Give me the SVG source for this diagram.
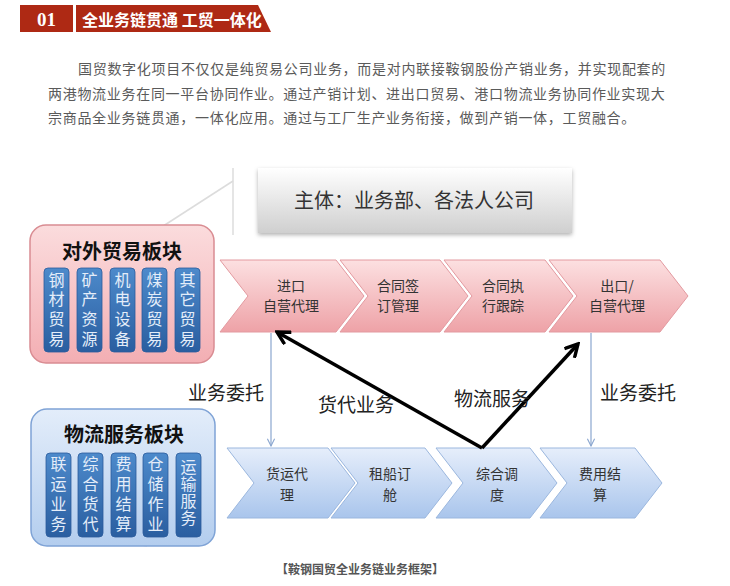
<svg xmlns="http://www.w3.org/2000/svg" width="730" height="586" viewBox="0 0 730 586">
<style>
.cjk{font-family:"Noto Sans CJK SC","Noto Sans",sans-serif;}
.para{font-size:14px;fill:#5a5a5a;letter-spacing:0.7px;}
.hdr{fill:#ae2914;}
.pk{fill:url(#gPink);stroke:#e39aa0;stroke-width:1;}
.bl{fill:url(#gBlue);stroke:#9bb7de;stroke-width:1;}
.ct{font-size:14px;fill:#333;text-anchor:middle;dominant-baseline:central;}
.col{fill:url(#gCol);stroke:#2b5c9c;stroke-width:0.8;}
.colt{font-size:16px;fill:#e4edf9;text-anchor:middle;dominant-baseline:central;}
.lbl{font-size:19px;fill:#222;text-anchor:middle;dominant-baseline:central;}
.thin{stroke:#8aa6cf;stroke-width:1.2;fill:none;}
.thick{stroke:#000;stroke-width:3.5;fill:none;}
.faint{stroke:#dcdcdc;stroke-width:1.5;fill:none;}
</style>
<defs>
<linearGradient id="gPink" x1="0" y1="0" x2="0" y2="1">
<stop offset="0" stop-color="#fce0e1"/>
<stop offset="1" stop-color="#eea2a7"/>
</linearGradient>
<linearGradient id="gBlue" x1="0" y1="0" x2="0" y2="1">
<stop offset="0" stop-color="#e6eefb"/>
<stop offset="1" stop-color="#a9c5ec"/>
</linearGradient>
<linearGradient id="gRedBlock" x1="0" y1="0" x2="0" y2="1">
<stop offset="0" stop-color="#fbdcdd"/>
<stop offset="1" stop-color="#f3aeb3"/>
</linearGradient>
<linearGradient id="gBlueBlock" x1="0" y1="0" x2="0" y2="1">
<stop offset="0" stop-color="#e3edfa"/>
<stop offset="1" stop-color="#b3cdee"/>
</linearGradient>
<linearGradient id="gCol" x1="0" y1="0" x2="0" y2="1">
<stop offset="0" stop-color="#4d8acb"/>
<stop offset="1" stop-color="#2a5ea0"/>
</linearGradient>
<linearGradient id="gGray" x1="0" y1="0" x2="0" y2="1">
<stop offset="0" stop-color="#ffffff"/>
<stop offset="1" stop-color="#cfcfcf"/>
</linearGradient>
<filter id="sh" x="-10%" y="-20%" width="120%" height="150%">
<feDropShadow dx="0" dy="2" stdDeviation="2" flood-color="#000" flood-opacity="0.3"/>
</filter>
<marker id="aBlack" viewBox="0 0 14 14" refX="12" refY="7" markerWidth="16" markerHeight="16" markerUnits="userSpaceOnUse" orient="auto">
<path d="M1,1 L12,7 L1,13" fill="none" stroke="#000" stroke-width="3"/>
</marker>
<marker id="aBlue" viewBox="0 0 10 10" refX="9" refY="5" markerWidth="9" markerHeight="9" markerUnits="userSpaceOnUse" orient="auto">
<path d="M1,1 L9,5 L1,9" fill="none" stroke="#8aa6cf" stroke-width="1.2"/>
</marker>
</defs>

<rect width="730" height="586" fill="#ffffff"/>

<g id="header">
<rect class="hdr" x="20" y="5" width="53" height="27"/>
<path class="hdr" d="M76,5 L258,5 L271,32 L76,32 Z"/>
<text x="46.5" y="19" font-family="Liberation Serif,serif" font-weight="bold" font-size="19" fill="#fff" text-anchor="middle" dominant-baseline="central">01</text>
<text class="cjk" x="82" y="19" font-size="16" font-weight="bold" fill="#fff" dominant-baseline="central">全业务链贯通 工贸一体化</text>
</g>

<g id="paragraph" class="cjk para">
<text x="78" y="74">国贸数字化项目不仅仅是纯贸易公司业务，而是对内联接鞍钢股份产销业务，并实现配套的</text>
<text x="48" y="99">两港物流业务在同一平台协同作业。通过产销计划、进出口贸易、港口物流业务协同作业实现大</text>
<text x="48" y="123">宗商品全业务链贯通，一体化应用。通过与工厂生产业务衔接，做到产销一体，工贸融合。</text>
</g>

<g id="faint-lines">
<path class="faint" d="M233,168 L233,235"/>
<path class="faint" d="M233,181 L140,241"/>
<path class="faint" d="M100,538 L147,546"/>
</g>

<g id="subject">
<rect x="258" y="168" width="314" height="65" fill="url(#gGray)" filter="url(#sh)"/>
<text class="cjk" x="414" y="199" font-size="20" fill="#333" text-anchor="middle" dominant-baseline="central">主体：业务部、各法人公司</text>
</g>

<g id="trade-block">
<rect x="30" y="225" width="184" height="138" rx="16" fill="url(#gRedBlock)" stroke="#d98c92" stroke-width="1.5"/>
<text class="cjk" x="122" y="250" font-size="20" font-weight="bold" fill="#111" text-anchor="middle" dominant-baseline="central">对外贸易板块</text>
<g class="cjk">
<rect class="col" x="44" y="268" width="25" height="84" rx="4"/>
<rect class="col" x="77" y="268" width="25" height="84" rx="4"/>
<rect class="col" x="110" y="268" width="25" height="84" rx="4"/>
<rect class="col" x="142" y="268" width="25" height="84" rx="4"/>
<rect class="col" x="175" y="268" width="25" height="84" rx="4"/>
<text class="colt" x="56.5" y="279">钢</text><text class="colt" x="56.5" y="298">材</text><text class="colt" x="56.5" y="318">贸</text><text class="colt" x="56.5" y="338">易</text>
<text class="colt" x="89.5" y="279">矿</text><text class="colt" x="89.5" y="298">产</text><text class="colt" x="89.5" y="318">资</text><text class="colt" x="89.5" y="338">源</text>
<text class="colt" x="122.5" y="279">机</text><text class="colt" x="122.5" y="298">电</text><text class="colt" x="122.5" y="318">设</text><text class="colt" x="122.5" y="338">备</text>
<text class="colt" x="154.5" y="279">煤</text><text class="colt" x="154.5" y="298">炭</text><text class="colt" x="154.5" y="318">贸</text><text class="colt" x="154.5" y="338">易</text>
<text class="colt" x="187.5" y="279">其</text><text class="colt" x="187.5" y="298">它</text><text class="colt" x="187.5" y="318">贸</text><text class="colt" x="187.5" y="338">易</text>
</g>
</g>

<g id="logistics-block">
<rect x="31" y="409" width="184" height="137" rx="16" fill="url(#gBlueBlock)" stroke="#7fa3d6" stroke-width="1.5"/>
<text class="cjk" x="124" y="433" font-size="20" font-weight="bold" fill="#111" text-anchor="middle" dominant-baseline="central">物流服务板块</text>
<g class="cjk">
<rect class="col" x="46" y="453" width="25" height="84" rx="4"/>
<rect class="col" x="78" y="453" width="25" height="84" rx="4"/>
<rect class="col" x="111" y="453" width="25" height="84" rx="4"/>
<rect class="col" x="143" y="453" width="25" height="84" rx="4"/>
<rect class="col" x="176" y="453" width="25" height="84" rx="4"/>
<text class="colt" x="58.5" y="463">联</text><text class="colt" x="58.5" y="483">运</text><text class="colt" x="58.5" y="503">业</text><text class="colt" x="58.5" y="523">务</text>
<text class="colt" x="90.5" y="463">综</text><text class="colt" x="90.5" y="483">合</text><text class="colt" x="90.5" y="503">货</text><text class="colt" x="90.5" y="523">代</text>
<text class="colt" x="123.5" y="463">费</text><text class="colt" x="123.5" y="483">用</text><text class="colt" x="123.5" y="503">结</text><text class="colt" x="123.5" y="523">算</text>
<text class="colt" x="155.5" y="463">仓</text><text class="colt" x="155.5" y="483">储</text><text class="colt" x="155.5" y="503">作</text><text class="colt" x="155.5" y="523">业</text>
<text class="colt" x="188.5" y="466" font-size="13">运</text><text class="colt" x="188.5" y="483" font-size="13">输</text><text class="colt" x="188.5" y="500" font-size="13">服</text><text class="colt" x="188.5" y="517" font-size="13">务</text>
</g>
</g>

<g id="chevron-import">
<path class="pk" d="M220,260 L336,260 L364,296 L336,332 L220,332 L248,296 Z"/>
<text class="cjk ct" x="291" y="285">进口</text>
<text class="cjk ct" x="291" y="305">自营代理</text>
</g>
<g id="chevron-sign">
<path class="pk" d="M340,260 L440,260 L468,296 L440,332 L340,332 L368,296 Z"/>
<text class="cjk ct" x="398" y="285">合同签</text>
<text class="cjk ct" x="398" y="305">订管理</text>
</g>
<g id="chevron-exec">
<path class="pk" d="M444,260 L545,260 L573,296 L545,332 L444,332 L472,296 Z"/>
<text class="cjk ct" x="503" y="285">合同执</text>
<text class="cjk ct" x="503" y="305">行跟踪</text>
</g>
<g id="chevron-export">
<path class="pk" d="M549,260 L660,260 L688,296 L660,332 L549,332 L577,296 Z"/>
<text class="cjk ct" x="617" y="285">出口/</text>
<text class="cjk ct" x="617" y="305">自营代理</text>
</g>

<g id="chevron-freight">
<path class="bl" d="M227,448 L328,448 L355,483 L328,518 L227,518 L254,483 Z"/>
<text class="cjk ct" x="287" y="473">货运代</text>
<text class="cjk ct" x="287" y="494">理</text>
</g>
<g id="chevron-charter">
<path class="bl" d="M331,448 L425,448 L452,483 L425,518 L331,518 L358,483 Z"/>
<text class="cjk ct" x="390" y="473">租船订</text>
<text class="cjk ct" x="390" y="494">舱</text>
</g>
<g id="chevron-dispatch">
<path class="bl" d="M436,448 L530,448 L557,483 L530,518 L436,518 L463,483 Z"/>
<text class="cjk ct" x="497" y="473">综合调</text>
<text class="cjk ct" x="497" y="494">度</text>
</g>
<g id="chevron-settle">
<path class="bl" d="M540,448 L635,448 L662,483 L635,518 L540,518 L567,483 Z"/>
<text class="cjk ct" x="600" y="473">费用结</text>
<text class="cjk ct" x="600" y="494">算</text>
</g>

<g id="connectors">
<path class="thin" d="M271,333 L271,446" marker-end="url(#aBlue)"/>
<path class="thin" d="M591,333 L591,446" marker-end="url(#aBlue)"/>
<path class="thick" d="M482,448 L277,332" marker-end="url(#aBlack)"/>
<path class="thick" d="M482,448 L578,344" marker-end="url(#aBlack)"/>
</g>

<g id="labels" class="cjk">
<text class="lbl" x="226" y="391">业务委托</text>
<text class="lbl" x="638" y="391">业务委托</text>
<text class="lbl" x="356" y="403">货代业务</text>
<text class="lbl" x="492" y="397">物流服务</text>
</g>

<text class="cjk" x="360" y="568" font-size="12" font-weight="bold" fill="#555" text-anchor="middle" dominant-baseline="central">【鞍钢国贸全业务链业务框架】</text>
</svg>
